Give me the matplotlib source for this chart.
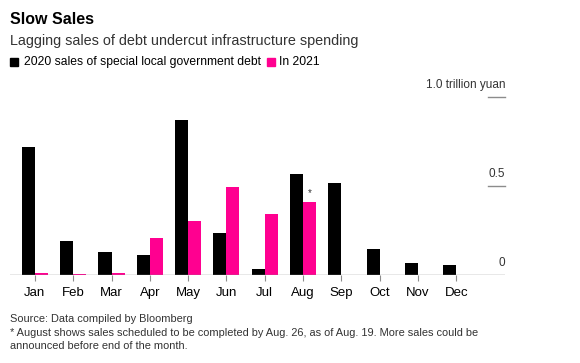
import matplotlib.pyplot as plt
import matplotlib.transforms as mtransforms
import numpy as np

plt.rcParams['font.family'] = ['Liberation Sans', 'DejaVu Sans']

# data (trillion yuan)
months = ['Jan', 'Feb', 'Mar', 'Apr', 'May', 'Jun', 'Jul', 'Aug', 'Sep', 'Oct', 'Nov', 'Dec']
sales_2020 = [0.72, 0.19, 0.13, 0.11, 0.87, 0.235, 0.032, 0.567, 0.517, 0.143, 0.064, 0.053]
sales_2021 = [0.008, 0.003, 0.011, 0.206, 0.30, 0.493, 0.341, 0.407]
y_ticks = [0, 0.5, 1.0]
y_tick_labels = ['0', '0.5', '1.0 trillion yuan']

black = '#000000'
pink = '#FF0090'
gray = '#8c8c8c'

fig = plt.figure(figsize=(5.8, 3.63), dpi=100)
ax = fig.add_axes([0.0172, 0.2433, 0.8535, 0.4904])

x = np.arange(len(months))
w = 0.34
ax.bar(x - w / 2, sales_2020, width=w, color=black, zorder=3)
x21 = np.arange(len(sales_2021))
ax.bar(x21 + w / 2, sales_2021, width=w, color=pink, zorder=3)

# asterisk above August 2021 bar
ax.text(x21[-1] + w / 2, sales_2021[-1] + 0.025, '*', ha='center', va='bottom',
        fontsize=7, color='#333333')

ax.set_xlim(-0.65, 12.27)
ax.set_ylim(0, 1.0)
ax.axhline(0, color=gray, lw=1, zorder=4)

for s in ax.spines.values():
    s.set_visible(False)
ax.set_yticks([])
ax.set_xticks(x)
ax.set_xticklabels(months, fontsize=9.5)
ax.tick_params(axis='x', length=4, width=0.8, color=gray, pad=5)

# right-hand value labels with short tick lines
trans = mtransforms.blended_transform_factory(ax.transAxes, ax.transData)
for v, lab in zip(y_ticks, y_tick_labels):
    if v > 0:
        ax.plot([0.966, 1.0], [v, v], color=gray, lw=1, transform=trans, clip_on=False)
    ax.annotate(lab, xy=(1.0, v), xycoords=trans, xytext=(0, 4), textcoords='offset points',
                ha='right', va='bottom', fontsize=8.5, color='#333333')

# title, subtitle, legend
fig.text(0.0172, 0.945, 'Slow Sales', fontsize=11.5, fontweight='bold', va='center')
fig.text(0.0172, 0.888, 'Lagging sales of debt undercut infrastructure spending',
         fontsize=10.4, va='center', color='#333333')
fig.patches.append(plt.Rectangle((0.0172, 0.818), 0.0138, 0.022, color=black,
                                 transform=fig.transFigure, figure=fig))
fig.text(0.041, 0.829, '2020 sales of special local government debt', fontsize=8.7, va='center')
fig.patches.append(plt.Rectangle((0.460, 0.818), 0.0138, 0.022, color=pink,
                                 transform=fig.transFigure, figure=fig))
fig.text(0.481, 0.829, 'In 2021', fontsize=8.7, va='center')

# footer
fig.text(0.0172, 0.122, 'Source: Data compiled by Bloomberg', fontsize=7.9, va='center', color='#333333')
fig.text(0.0172, 0.083, '* August shows sales scheduled to be completed by Aug. 26, as of Aug. 19. More sales could be',
         fontsize=7.9, va='center', color='#333333')
fig.text(0.0172, 0.047, 'announced before end of the month.', fontsize=7.9, va='center', color='#333333')

fig.savefig('out.png', dpi=100)
